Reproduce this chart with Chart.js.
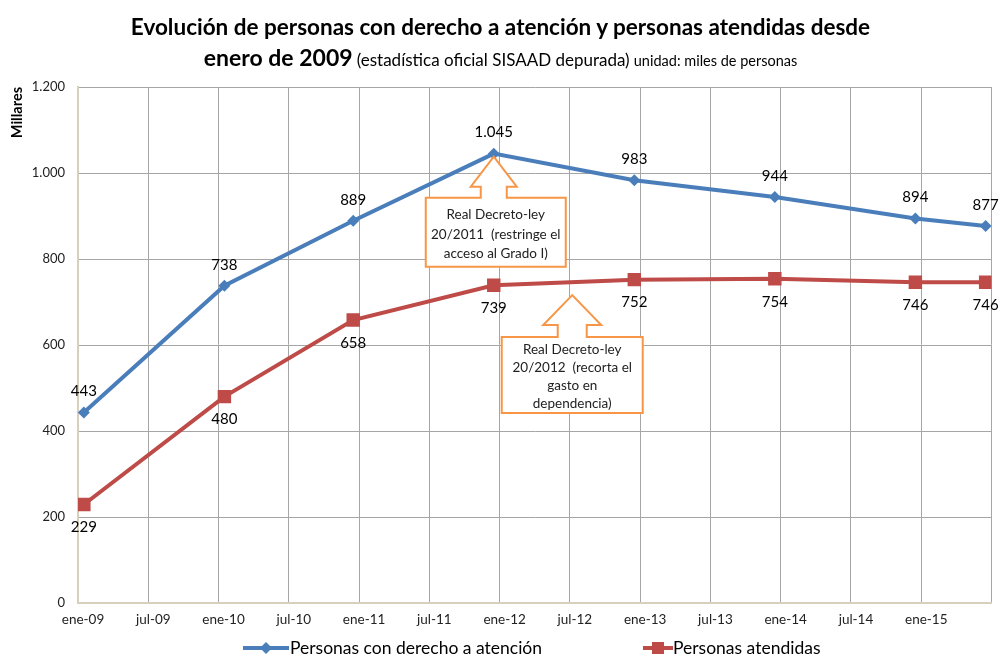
<!DOCTYPE html>
<html>
<head>
<meta charset="utf-8">
<script src="https://cdn.jsdelivr.net/npm/chart.js@4"></script>
<style>
  body { margin: 0; background: #fff; font-family: Lato, 'Open Sans', sans-serif; color: #000; }
  #wrap { position: relative; width: 1001px; height: 657px; overflow: hidden; }
  #chart { position: absolute; left: 0; top: 0; }
  .title1 { position: absolute; left: 0; width: 1001px; top: 13px; line-height: 28px; text-align: center; font-weight: bold; font-size: 22.5px; white-space: nowrap; }
  .title2 { position: absolute; left: 0; width: 1001px; top: 43px; line-height: 28px; text-align: center; white-space: nowrap; }
  .title2 .b { font-weight: bold; font-size: 23px; }
  .title2 .m { font-size: 17px; }
  .title2 .s { font-size: 14.5px; }
  .leg { position: absolute; top: 638px; font-size: 17.5px; line-height: 20px; }
  .leg canvas { position: absolute; top: 0; }
</style>
</head>
<body>
<div id="wrap">
  <canvas id="chart" width="1001" height="657"></canvas>
  <div class="title1">Evolución de personas con derecho a atención y personas atendidas desde</div>
  <div class="title2"><span class="b">enero de 2009</span> <span class="m">(estadística oficial SISAAD depurada)</span> <span class="s">unidad: miles de personas</span></div>
  <div class="leg" style="left:243px"><canvas id="ico1" width="46" height="20"></canvas><span style="position:absolute;left:47px;white-space:nowrap">Personas con derecho a atención</span></div>
  <div class="leg" style="left:643px"><canvas id="ico2" width="30" height="20"></canvas><span style="position:absolute;left:30px;white-space:nowrap">Personas atendidas</span></div>
</div>
<script>
// months counted from enero 2009
const months = [0.5, 12.5, 23.5, 35.5, 47.5, 59.5, 71.5, 77.5];
const conDerecho = [443, 738, 889, 1045, 983, 944, 894, 877];
const atendidas = [229, 480, 658, 739, 752, 754, 746, 746];
const tickLabels = ['ene-09', 'jul-09', 'ene-10', 'jul-10', 'ene-11', 'jul-11', 'ene-12',
  'jul-12', 'ene-13', 'jul-13', 'ene-14', 'jul-14', 'ene-15', ''];
const seriesNames = ['Personas con derecho a atención', 'Personas atendidas'];

// callouts anchored at a data position (months, value)
const callouts = [
  { x: 35.5, y: 1045, lines: ['Real Decreto-ley', '20/2011  (restringe el', 'acceso al Grado I)'] },
  { x: 42.2, y: 716, lines: ['Real Decreto-ley', '20/2012  (recorta el', 'gasto en', 'dependencia)'] }
];
const calloutStyle = [
  { tipDy: 3, headH: 30, headW: 23, shaftW: 13, boxTop: 41, boxW: 140, boxH: 69, boxDx: 2, lineH: 19.5 },
  { tipDy: 0, headH: 30, headW: 29, shaftW: 14.5, boxTop: 42, boxW: 141, boxH: 76, boxDx: 0, lineH: 18 }
];

const BLUE = '#4a7ebb';
const RED = '#be4b48';
const ORANGE = '#f79646';
const FONT = 'Lato, "Open Sans", sans-serif';

function fmt(v) {
  return String(v).replace(/\B(?=(\d{3})+(?!\d))/g, '.');
}

const valueLabels = {
  id: 'valueLabels',
  afterDatasetsDraw(chart) {
    const ctx = chart.ctx;
    ctx.save();
    ctx.font = '15px ' + FONT;
    ctx.fillStyle = '#000';
    ctx.textAlign = 'center';
    ctx.textBaseline = 'middle';
    chart.data.datasets.forEach((ds, i) => {
      const meta = chart.getDatasetMeta(i);
      meta.data.forEach((pt, j) => {
        const dy = i === 0 ? -21 : 23;
        ctx.fillText(fmt(ds.data[j].y), pt.x, pt.y + dy);
      });
    });
    ctx.restore();
  }
};

const calloutPlugin = {
  id: 'callouts',
  afterDatasetsDraw(chart) {
    const ctx = chart.ctx;
    const xs = chart.scales.x, ys = chart.scales.y;
    callouts.forEach((c, i) => {
      const s = calloutStyle[i];
      const px = xs.getPixelForValue(c.x);
      const py = ys.getPixelForValue(c.y) + s.tipDy;
      const bx = px + s.boxDx;
      const top = py + s.boxTop;
      ctx.save();
      ctx.beginPath();
      ctx.moveTo(px, py);
      ctx.lineTo(px + s.headW, py + s.headH);
      ctx.lineTo(px + s.shaftW, py + s.headH);
      ctx.lineTo(px + s.shaftW, top);
      ctx.lineTo(bx + s.boxW / 2, top);
      ctx.lineTo(bx + s.boxW / 2, top + s.boxH);
      ctx.lineTo(bx - s.boxW / 2, top + s.boxH);
      ctx.lineTo(bx - s.boxW / 2, top);
      ctx.lineTo(px - s.shaftW, top);
      ctx.lineTo(px - s.shaftW, py + s.headH);
      ctx.lineTo(px - s.headW, py + s.headH);
      ctx.closePath();
      ctx.fillStyle = '#fff';
      ctx.fill();
      ctx.strokeStyle = ORANGE;
      ctx.lineWidth = 2;
      ctx.stroke();
      ctx.font = '13.5px ' + FONT;
      ctx.fillStyle = '#222';
      ctx.textAlign = 'center';
      ctx.textBaseline = 'middle';
      const n = c.lines.length;
      c.lines.forEach((ln, k) => {
        ctx.fillText(ln, bx, top + s.boxH / 2 + 2 + (k - (n - 1) / 2) * s.lineH);
      });
      ctx.restore();
    });
  }
};

new Chart(document.getElementById('chart'), {
  type: 'line',
  data: {
    datasets: [
      {
        label: seriesNames[0],
        data: months.map((m, i) => ({ x: m, y: conDerecho[i] })),
        borderColor: BLUE,
        backgroundColor: BLUE,
        borderWidth: 4,
        pointStyle: 'rectRot',
        pointRadius: 6,
        pointBorderWidth: 0,
        tension: 0
      },
      {
        label: seriesNames[1],
        data: months.map((m, i) => ({ x: m, y: atendidas[i] })),
        borderColor: RED,
        backgroundColor: RED,
        borderWidth: 4,
        pointStyle: 'rect',
        pointRadius: 9.5,
        pointBorderWidth: 0,
        tension: 0
      }
    ]
  },
  options: {
    responsive: false,
    animation: false,
    layout: { padding: { top: 87, right: 8, left: 0, bottom: 0 } },
    plugins: {
      legend: { display: false },
      title: { display: false },
      tooltip: { enabled: false }
    },
    scales: {
      x: {
        type: 'linear',
        min: 0,
        max: 78,
        afterFit: s => { s.height = 54; },
        grid: { color: '#a6a6a6', drawTicks: false },
        border: { color: '#d6d0bd', width: 2 },
        ticks: {
          stepSize: 6,
          autoSkip: false,
          maxRotation: 0,
          padding: 9,
          labelOffset: 5,
          color: '#222',
          font: { family: FONT, size: 13.5 },
          callback: v => tickLabels[Math.round(v / 6)]
        }
      },
      y: {
        min: 0,
        max: 1200,
        afterFit: s => { s.width = 78; },
        grid: { color: '#a6a6a6', drawTicks: false },
        border: { color: '#d6d0bd', width: 2 },
        title: {
          display: true,
          text: 'Millares',
          align: 'end',
          color: '#000',
          font: { family: FONT, size: 14.5, weight: 'bold' },
          padding: { top: 9, bottom: 0 }
        },
        ticks: {
          stepSize: 200,
          padding: 13,
          color: '#222',
          font: { family: FONT, size: 13 },
          callback: v => fmt(v)
        }
      }
    }
  },
  plugins: [valueLabels, calloutPlugin]
});

// legend icons
function drawIcon(id, color, shape) {
  const c = document.getElementById(id);
  const ctx = c.getContext('2d');
  const w = c.width, cy = 10, cx = w / 2;
  ctx.strokeStyle = color;
  ctx.fillStyle = color;
  ctx.lineWidth = 4;
  ctx.beginPath();
  ctx.moveTo(0, cy);
  ctx.lineTo(w, cy);
  ctx.stroke();
  ctx.beginPath();
  if (shape === 'diamond') {
    ctx.moveTo(cx - 6, cy); ctx.lineTo(cx, cy - 6); ctx.lineTo(cx + 6, cy); ctx.lineTo(cx, cy + 6);
  } else {
    ctx.rect(cx - 6, cy - 6, 12, 12);
  }
  ctx.closePath();
  ctx.fill();
}
drawIcon('ico1', BLUE, 'diamond');
drawIcon('ico2', RED, 'square');
</script>
</body>
</html>
